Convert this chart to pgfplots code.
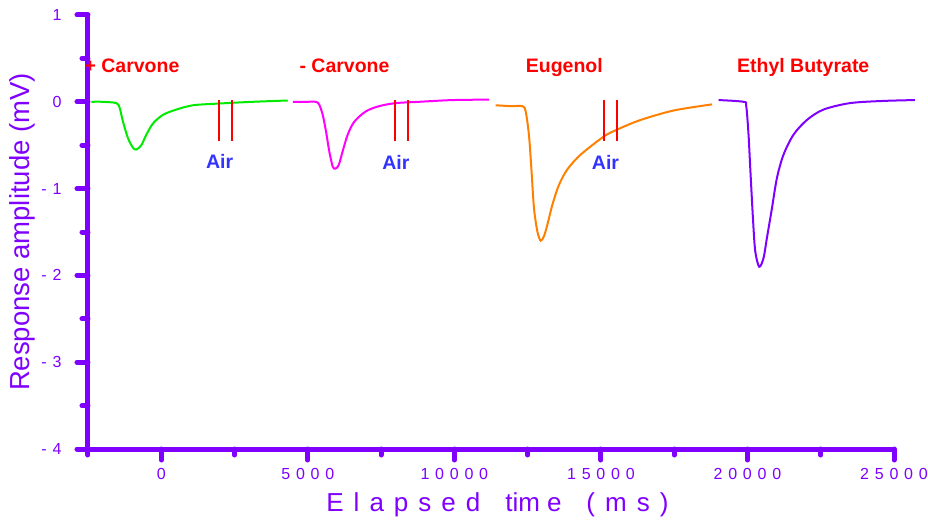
\documentclass[border=0pt]{standalone}
\usepackage{fontspec}
\setmainfont{Liberation Sans}
\newfontfamily\spc[LetterSpace=36]{Liberation Sans}
\usepackage{pgfplots}
\pgfplotsset{compat=1.18}
\definecolor{vio}{RGB}{127,0,255}
\definecolor{grn}{RGB}{0,235,0}
\definecolor{mag}{RGB}{255,0,255}
\definecolor{org}{RGB}{255,128,0}
\definecolor{airc}{RGB}{51,51,255}
\newcommand{\g}{\hspace{10bp}}
\newcommand{\G}{\hspace{25bp}}
\newcommand{\h}{\hspace{7bp}}
\begin{document}
\begin{tikzpicture}
\begin{axis}[name=a, scale only axis, width=806bp, height=434bp,
 xmin=-2500, xmax=25000, ymin=-4, ymax=1,
 scaled x ticks=false, scaled y ticks=false,
 axis x line=bottom, axis y line=left,
 axis line style={-, line width=5bp, vio, line cap=round},
 xtick={0,5000,10000,15000,20000,25000},
 minor xtick={-2500,2500,7500,12500,17500,22500},
 xticklabels={0,5000,10000,15000,20000,25000},
 ytick={-4,-3,-2,-1,0,1},
 minor ytick={-3.5,-2.5,-1.5,-0.5,0.5},
 yticklabels={-4,-3,-2,-1,0,1},
 tick align=outside, major tick length=11bp, minor tick length=6bp,
 tick style={line width=5bp, vio, line cap=round},
 ticklabel style={font=\fontsize{16bp}{18bp}\spc, text=vio},
 xticklabel style={yshift=-5bp},
 yticklabel style={xshift=-12bp},
 clip=false,
 xlabel={E\g l\g a\g p\g s\g e\g d\G tim\h e\G (\g m\g s\g )},
 xlabel style={font=\fontsize{26bp}{30bp}\selectfont, text=vio, at={(axis description cs:0.508,-0.145)}, anchor=base},
 ylabel={Response amplitude (mV)},
 ylabel style={font=\fontsize{27.5bp}{30bp}\selectfont, text=vio, at={(axis description cs:-0.0819,0.5)}, anchor=center},
]
\addplot[grn, line width=2bp, smooth, tension=0.5] coordinates {
(-2384,0) (-2000,0) (-1533,-0.015) (-1420,-0.07) (-1305,-0.23) (-1134,-0.42) (-964,-0.53) (-852,-0.55) (-681,-0.50) (-511,-0.38) (-283,-0.25) (58,-0.15) (511,-0.09) (1080,-0.04) (1975,-0.02) (3123,0.0) (4315,0.015)};
\addplot[mag, line width=2bp, smooth, tension=0.5] coordinates {
(4486,0) (5000,0) (5280,0) (5392,-0.035) (5508,-0.15) (5620,-0.34) (5732,-0.57) (5848,-0.745) (5937,-0.77) (6053,-0.73) (6189,-0.57) (6359,-0.38) (6584,-0.23) (6982,-0.11) (7435,-0.05) (8004,-0.015) (8798,0) (9935,0.02) (11182,0.025)};
\addplot[org, line width=2bp, smooth, tension=0.5] coordinates {
(11410,-0.04) (11921,-0.05) (12320,-0.05) (12432,-0.11) (12544,-0.38) (12626,-0.76) (12715,-1.22) (12830,-1.49) (12943,-1.60) (13055,-1.55) (13171,-1.42) (13341,-1.19) (13566,-0.96) (13852,-0.78) (14305,-0.61) (15099,-0.40) (15555,-0.32) (16349,-0.21) (17483,-0.10) (18791,-0.03)};
\addplot[vio, line width=2bp, smooth, tension=0.5] coordinates {
(19015,0.02) (19867,0) (19959,-0.05) (20037,-0.38) (20095,-0.76) (20187,-1.34) (20265,-1.72) (20401,-1.90) (20548,-1.80) (20663,-1.57) (20834,-1.23) (21004,-0.88) (21229,-0.61) (21569,-0.38) (22026,-0.21) (22591,-0.09) (23501,-0.015) (24635,0.01) (25714,0.02)};
\addplot[red, line width=2bp] coordinates {(1965,0.023) (1965,-0.45)};
\addplot[red, line width=2bp] coordinates {(2418,0.023) (2418,-0.45)};
\addplot[red, line width=2bp] coordinates {(7970,0.023) (7970,-0.45)};
\addplot[red, line width=2bp] coordinates {(8423,0.023) (8423,-0.45)};
\addplot[red, line width=2bp] coordinates {(15122,0.023) (15122,-0.45)};
\addplot[red, line width=2bp] coordinates {(15565,0.023) (15565,-0.45)};
\node[anchor=base west, text=red, font=\fontsize{19.5bp}{22bp}\bfseries, inner sep=0] at (axis cs:-2623,0.334) {+ Carvone};
\node[anchor=base west, text=red, font=\fontsize{19.5bp}{22bp}\bfseries, inner sep=0] at (axis cs:4711,0.334) {- Carvone};
\node[anchor=base west, text=red, font=\fontsize{19.5bp}{22bp}\bfseries, inner sep=0] at (axis cs:12432,0.334) {Eugenol};
\node[anchor=base west, text=red, font=\fontsize{19.5bp}{22bp}\bfseries, inner sep=0] at (axis cs:19642,0.334) {Ethyl Butyrate};
\node[text=airc, font=\fontsize{19.5bp}{22bp}\bfseries, inner sep=0] at (axis cs:1992,-0.69) {Air};
\node[text=airc, font=\fontsize{19.5bp}{22bp}\bfseries, inner sep=0] at (axis cs:8004,-0.70) {Air};
\node[text=airc, font=\fontsize{19.5bp}{22bp}\bfseries, inner sep=0] at (axis cs:15157,-0.70) {Air};
\end{axis}
\pgfresetboundingbox
\path ([xshift=-88bp,yshift=-72bp]a.south west) rectangle ([xshift=840bp,yshift=449bp]a.south west);
\end{tikzpicture}
\end{document}
